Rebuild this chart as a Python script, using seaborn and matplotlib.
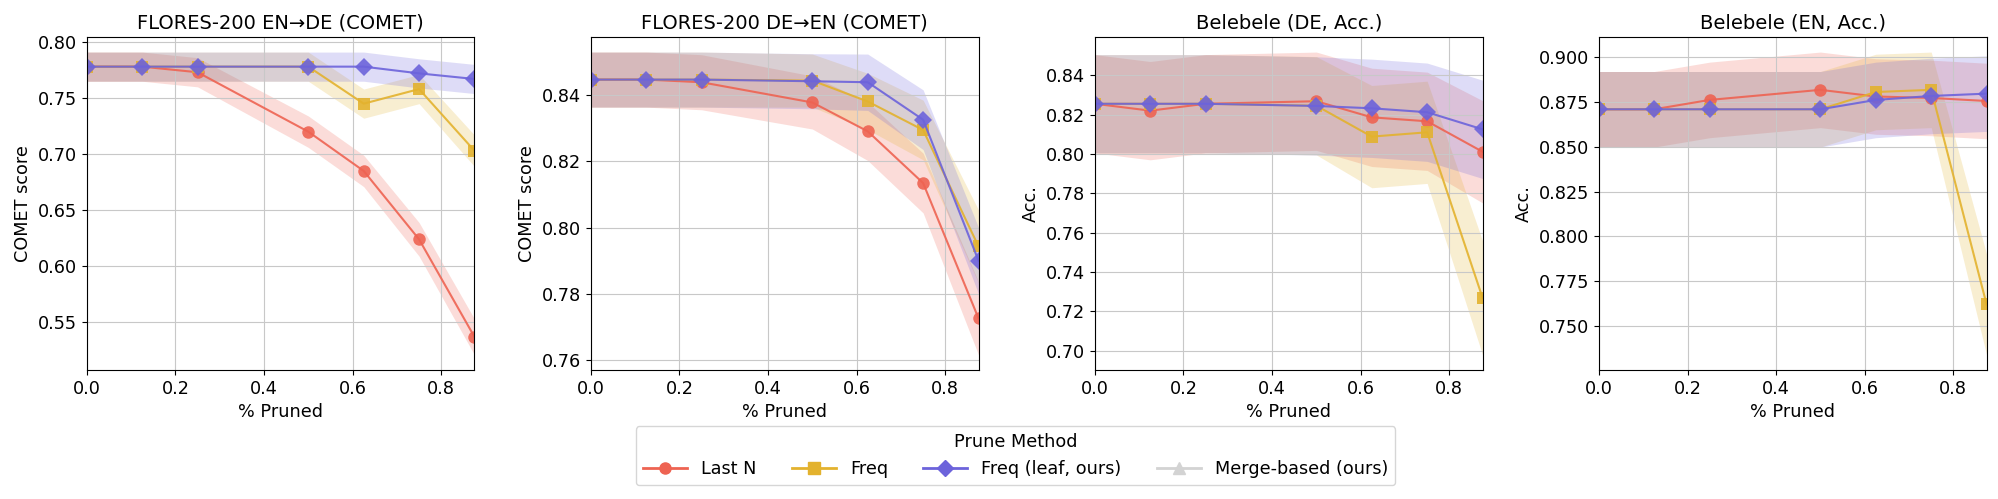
import numpy as np
import pandas as pd
import seaborn as sns
import matplotlib.pyplot as plt
from matplotlib.lines import Line2D
from matplotlib.ticker import MultipleLocator

# fraction of vocab pruned
pruned = [0.0, 0.125, 0.25, 0.5, 0.625, 0.75, 0.875]

methods = ["Last N", "Freq", "Freq (leaf, ours)"]
colors = {"Last N": "#ee6352", "Freq": "#e3b22e", "Freq (leaf, ours)": "#6c63db"}
markers = {"Last N": "o", "Freq": "s", "Freq (leaf, ours)": "D"}

titles = ["FLORES-200 EN\u2192DE (COMET)", "FLORES-200 DE\u2192EN (COMET)",
          "Belebele (DE, Acc.)", "Belebele (EN, Acc.)"]
ylabels = ["COMET score", "COMET score", "Acc.", "Acc."]
ysteps = [0.05, 0.02, 0.02, 0.025]

# mean scores per panel
en_de_lastn = [0.778, 0.778, 0.773, 0.720, 0.685, 0.624, 0.537]
en_de_freq = [0.778, 0.778, 0.778, 0.778, 0.745, 0.758, 0.703]
en_de_leaf = [0.778, 0.778, 0.778, 0.778, 0.778, 0.772, 0.767]

de_en_lastn = [0.8446, 0.8446, 0.8438, 0.8377, 0.8290, 0.8134, 0.7726]
de_en_freq = [0.8446, 0.8446, 0.8446, 0.8443, 0.8380, 0.8294, 0.7943]
de_en_leaf = [0.8446, 0.8446, 0.8446, 0.8441, 0.8438, 0.8325, 0.7900]

bele_de_lastn = [0.8255, 0.8220, 0.8255, 0.8268, 0.8186, 0.8166, 0.8011]
bele_de_freq = [0.8255, 0.8255, 0.8255, 0.8245, 0.8088, 0.8110, 0.7268]
bele_de_leaf = [0.8255, 0.8255, 0.8255, 0.8244, 0.8232, 0.8212, 0.8125]

bele_en_lastn = [0.8707, 0.8707, 0.8759, 0.8815, 0.8778, 0.8770, 0.8753]
bele_en_freq = [0.8707, 0.8707, 0.8707, 0.8707, 0.8803, 0.8815, 0.7622]
bele_en_leaf = [0.8707, 0.8707, 0.8707, 0.8707, 0.8759, 0.8781, 0.8794]

# half-width of the shaded interval
en_de_lastn_err = [0.013, 0.013, 0.013, 0.014, 0.014, 0.015, 0.016]
en_de_freq_err = [0.013, 0.013, 0.013, 0.013, 0.013, 0.013, 0.014]
en_de_leaf_err = [0.013, 0.013, 0.013, 0.013, 0.013, 0.013, 0.013]

de_en_lastn_err = [0.0083, 0.0083, 0.0083, 0.008, 0.0088, 0.009, 0.011]
de_en_freq_err = [0.0083, 0.0083, 0.0083, 0.008, 0.0085, 0.009, 0.011]
de_en_leaf_err = [0.0083, 0.0083, 0.0083, 0.0083, 0.0085, 0.009, 0.010]

bele_de_lastn_err = [0.025, 0.025, 0.025, 0.025, 0.025, 0.025, 0.026]
bele_de_freq_err = [0.025, 0.025, 0.025, 0.025, 0.026, 0.026, 0.029]
bele_de_leaf_err = [0.025, 0.025, 0.025, 0.025, 0.025, 0.025, 0.025]

bele_en_lastn_err = [0.021, 0.021, 0.021, 0.021, 0.021, 0.021, 0.021]
bele_en_freq_err = [0.021, 0.021, 0.021, 0.021, 0.021, 0.021, 0.028]
bele_en_leaf_err = [0.021, 0.021, 0.021, 0.021, 0.021, 0.021, 0.021]

panels = [
    ([en_de_lastn, en_de_freq, en_de_leaf], [en_de_lastn_err, en_de_freq_err, en_de_leaf_err]),
    ([de_en_lastn, de_en_freq, de_en_leaf], [de_en_lastn_err, de_en_freq_err, de_en_leaf_err]),
    ([bele_de_lastn, bele_de_freq, bele_de_leaf], [bele_de_lastn_err, bele_de_freq_err, bele_de_leaf_err]),
    ([bele_en_lastn, bele_en_freq, bele_en_leaf], [bele_en_lastn_err, bele_en_freq_err, bele_en_leaf_err]),
]

plt.rcParams["axes.grid"] = True
plt.rcParams["font.size"] = 12.7

fig, axes = plt.subplots(1, 4, figsize=(19.99, 4.99), dpi=100)
fig.subplots_adjust(left=0.0434, right=0.9938, bottom=0.2585, top=0.926, wspace=0.30)

for ax, (series, errs), title, ylab, step in zip(axes, panels, titles, ylabels, ysteps):
    rows = []
    for m, vals, err in zip(methods, series, errs):
        for x, v, b in zip(pruned, vals, err):
            rows.append({"pruned": x, "score": v, "method": m, "lo": v - b, "hi": v + b})
    df = pd.DataFrame(rows)

    for m in methods:
        d = df[df["method"] == m]
        ax.fill_between(d["pruned"], d["lo"], d["hi"], color=colors[m], alpha=0.22, lw=0)
    sns.lineplot(data=df, x="pruned", y="score", hue="method", style="method",
                 hue_order=methods, palette=colors, markers=markers, dashes=False,
                 markersize=9, markeredgewidth=0, alpha=0.9, legend=False, ax=ax)
    ax.set_xlim(0, 0.875)
    ax.xaxis.set_major_locator(MultipleLocator(0.2))
    ax.yaxis.set_major_locator(MultipleLocator(step))
    if step == 0.025:
        ax.yaxis.set_major_formatter("{x:.3f}")
    else:
        ax.yaxis.set_major_formatter("{x:.2f}")
    ax.set_title(title, fontsize=14)
    ax.set_xlabel("% Pruned")
    ax.set_ylabel(ylab)
    ax.grid(True, color="#c8c8c8")

handles = [Line2D([], [], color=colors[m], marker=markers[m], markersize=8, lw=2) for m in methods]
handles.append(Line2D([], [], color="#d3d3d3", marker="^", markersize=8, lw=2))
fig.legend(handles, methods + ["Merge-based (ours)"], title="Prune Method", ncol=4,
           loc="lower center", bbox_to_anchor=(0.508, 0.01), fontsize=12.7, title_fontsize=12.7,
           handlelength=2.5, columnspacing=2.0)

fig.savefig("out.png", dpi=100)
